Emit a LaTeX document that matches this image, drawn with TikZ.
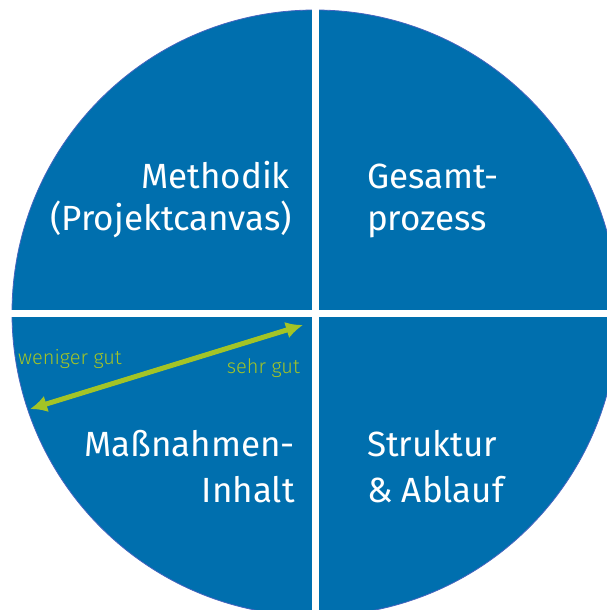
\documentclass[tikz,border=0pt]{standalone}
\usepackage{fontspec}
\setmainfont{Fira Sans}[UprightFont=* Light]
\newfontfamily\quadfont{Fira Sans}
\usepackage{xcolor}
\usepackage{tikz}
\usetikzlibrary{arrows.meta}
\definecolor{quadblue}{RGB}{0,111,174}
\definecolor{edgeblue}{RGB}{70,100,190}
\definecolor{ratinggreen}{RGB}{163,196,38}

\begin{document}
\begin{tikzpicture}[x=1pt,y=-1pt,%
% common options for the quadrant texts:
bigtext/.style = {text=white, inner sep=0, font=\quadfont\fontsize{35}{42}\selectfont},
% common options for the rating labels:
smalltext/.style = {text=ratinggreen, inner sep=0, font=\fontsize{20}{24}\selectfont},
% white separator bars:
bar/.style = {draw=white, line width=7pt}]
\useasboundingbox (0,0) rectangle (607,610);
\clip (0,0) rectangle (607,610);
\fill[quadblue] (315,313) circle (303);
\draw[edgeblue, line width=0.8pt] (315,313) circle (303);
\draw[bar] (315,0) -- (315,620);
\draw[bar] (0,313) -- (620,313);
% quadrant texts
\node[bigtext,anchor=base east] (A1) at (290,188) {Methodik};
\node[bigtext,anchor=base east] (A2) at (292,230) {(Projektcanvas)};
\node[bigtext,anchor=base west] (B1) at (367,188) {Gesamt-};
\node[bigtext,anchor=base west] (B2) at (367,230) {prozess};
\node[bigtext,anchor=base east] (C1) at (295,456) {Maßnahmen-};
\node[bigtext,anchor=base east] (C2) at (295,502) {Inhalt};
\node[bigtext,anchor=base west] (D1) at (367,456) {Struktur};
\node[bigtext,anchor=base west] (D2) at (367,502) {\& Ablauf};
% rating scale
\coordinate (lo) at (30,409);
\coordinate (hi) at (303,325);
\draw[ratinggreen, line width=5pt, {Latex[length=17pt,width=17pt]}-{Latex[length=17pt,width=17pt]}] (lo) -- (hi);
\node[smalltext,anchor=base west] (L1) at (18,364) {weniger gut};
\node[smalltext,anchor=base east] (L2) at (300,373) {sehr gut};
\end{tikzpicture}
\end{document}
